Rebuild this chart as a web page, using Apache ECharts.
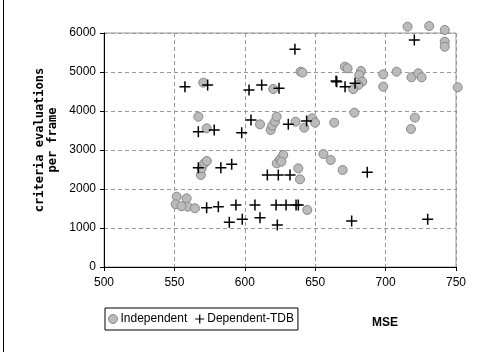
<!DOCTYPE html>
<html>
<head>
<meta charset="utf-8">
<script src="https://cdn.jsdelivr.net/npm/echarts@6/dist/echarts.min.js"></script>
<style>
  html, body { margin: 0; padding: 0; background: #fff; }
  #chart { width: 484px; height: 352px; }
</style>
</head>
<body>
<div id="chart"></div>
<script>
// MSE vs criteria evaluations per frame
const xTicks = [500, 550, 600, 650, 700, 750]
const yTicks = [0, 1000, 2000, 3000, 4000, 5000, 6000]

const independent = [
  [551.6, 1803], [550.9, 1608], [558.7, 1760], [559.4, 1547], [555, 1560], [564.6, 1505],
  [568.8, 2359], [569.4, 2530], [571.2, 2658], [573, 2718],
  [567, 3855], [572.9, 3556], [570.5, 4727],
  [610.8, 3658], [618.4, 3513], [619.5, 3624], [621.4, 3726], [622.6, 3855], [620.2, 4564],
  [636.1, 3726], [642.2, 3573], [647.9, 3812], [649.9, 3701], [639.6, 5008], [641, 4985],
  [622.7, 2658], [625, 2760], [627.3, 2872], [626, 2700], [638, 2530], [639.2, 2248], [644.4, 1462],
  [655.8, 2897], [661, 2744], [669.5, 2487],
  [663.5, 3701], [677.8, 3957],
  [671.1, 5136], [673, 5094], [682.5, 5026], [681.3, 4923], [683.4, 4752], [680.6, 4667], [677, 4560],
  [698.3, 4940], [698.3, 4624], [707.8, 5008], [718.4, 4864], [723.2, 4966], [725.6, 4864],
  [720.8, 3829], [718, 3538],
  [715.6, 6162], [731, 6179], [742, 6077], [742, 5777], [742, 5649],
  [751.2, 4607]
]

const dependentTDB = [
  [557.5, 4624], [573.6, 4667], [567, 3470], [578.3, 3513],
  [635.6, 5581], [603, 4538], [612, 4667], [624.3, 4581], [664.8, 4769],
  [597.8, 3445], [604.4, 3769], [630.9, 3658], [643.9, 3744],
  [665.3, 4752], [671.2, 4624], [678.3, 4710],
  [567, 2546], [583, 2546], [590.7, 2633],
  [616, 2359], [623.8, 2359], [632.1, 2359],
  [687, 2428],
  [572.9, 1521], [581.2, 1547],
  [593.7, 1590], [607.2, 1590], [622.2, 1590], [629.3, 1590], [636.4, 1590], [638, 1590],
  [589, 1145], [598.2, 1222], [610.8, 1264], [623.1, 1077],
  [675.9, 1180], [729.9, 1222],
  [720.4, 5821]
]

const plusIcon = 'path://M9.5,0 H12.5 V9.5 H22 V12.5 H12.5 V22 H9.5 V12.5 H0 V9.5 H9.5 Z'
const font = 'Liberation Sans'

const chart = echarts.init(document.getElementById('chart'))

chart.setOption({
  animation: false,
  backgroundColor: '#fff',
  grid: {
    left: 104, right: 28, top: 33, bottom: 85,
    show: true, borderColor: '#999', borderWidth: 1, backgroundColor: '#fff'
  },
  xAxis: {
    type: 'value',
    min: xTicks[0], max: xTicks[xTicks.length - 1], interval: 50,
    axisLine: { show: true, lineStyle: { color: '#000', width: 1 } },
    axisTick: { show: true, length: 4, lineStyle: { color: '#000' } },
    axisLabel: { color: '#000', fontFamily: font, fontSize: 12, margin: 10, formatter: v => String(v) },
    splitLine: { show: true, lineStyle: { color: '#999', type: [4, 3] } }
  },
  yAxis: {
    type: 'value',
    min: yTicks[0], max: yTicks[yTicks.length - 1], interval: 1000,
    axisLine: { show: true, lineStyle: { color: '#000', width: 1 } },
    axisTick: { show: true, length: 4, lineStyle: { color: '#000' } },
    axisLabel: { color: '#000', fontFamily: font, fontSize: 12, margin: 8, formatter: v => String(v) },
    splitLine: { show: true, lineStyle: { color: '#999', type: [4, 3] } }
  },
  legend: {
    left: 105, top: 308, width: 190, height: 25,
    padding: [5, 4, 5, 3],
    itemGap: 8, itemWidth: 9, itemHeight: 9,
    borderColor: '#000', borderWidth: 1, backgroundColor: '#fff', borderRadius: 0,
    textStyle: { color: '#000', fontFamily: font, fontSize: 12, padding: [0, 0, 0, -2] },
    data: [
      { name: 'Independent', icon: 'circle', itemStyle: { color: '#bbb', borderColor: '#888', borderWidth: 1 } },
      { name: 'Dependent-TDB', icon: plusIcon, itemStyle: { color: '#000' } }
    ]
  },
  graphic: [
    {
      type: 'text', x: 46, y: 140, rotation: Math.PI / 2,
      style: {
        text: 'criteria evaluations\nper frame', align: 'center', verticalAlign: 'middle',
        fontFamily: 'DejaVu Sans Mono', fontWeight: 'bold', fontSize: 12, lineHeight: 13, fill: '#000'
      }
    },
    {
      type: 'text', x: 385, y: 323,
      style: { text: 'MSE', align: 'center', verticalAlign: 'middle', fontFamily: font, fontWeight: 'bold', fontSize: 12, fill: '#000' }
    },
    {
      type: 'line', shape: { x1: 3.5, y1: 0, x2: 3.5, y2: 352 },
      style: { stroke: '#000', lineWidth: 1 }
    }
  ],
  series: [
    {
      name: 'Independent', type: 'scatter', clip: false,
      symbol: 'circle', symbolSize: 9,
      itemStyle: { color: '#bbb', borderColor: '#888', borderWidth: 1, opacity: 1 },
      data: independent
    },
    {
      name: 'Dependent-TDB', type: 'scatter', clip: false,
      symbol: plusIcon, symbolSize: 11,
      itemStyle: { color: '#000', opacity: 1 },
      data: dependentTDB
    }
  ]
})
</script>
</body>
</html>
